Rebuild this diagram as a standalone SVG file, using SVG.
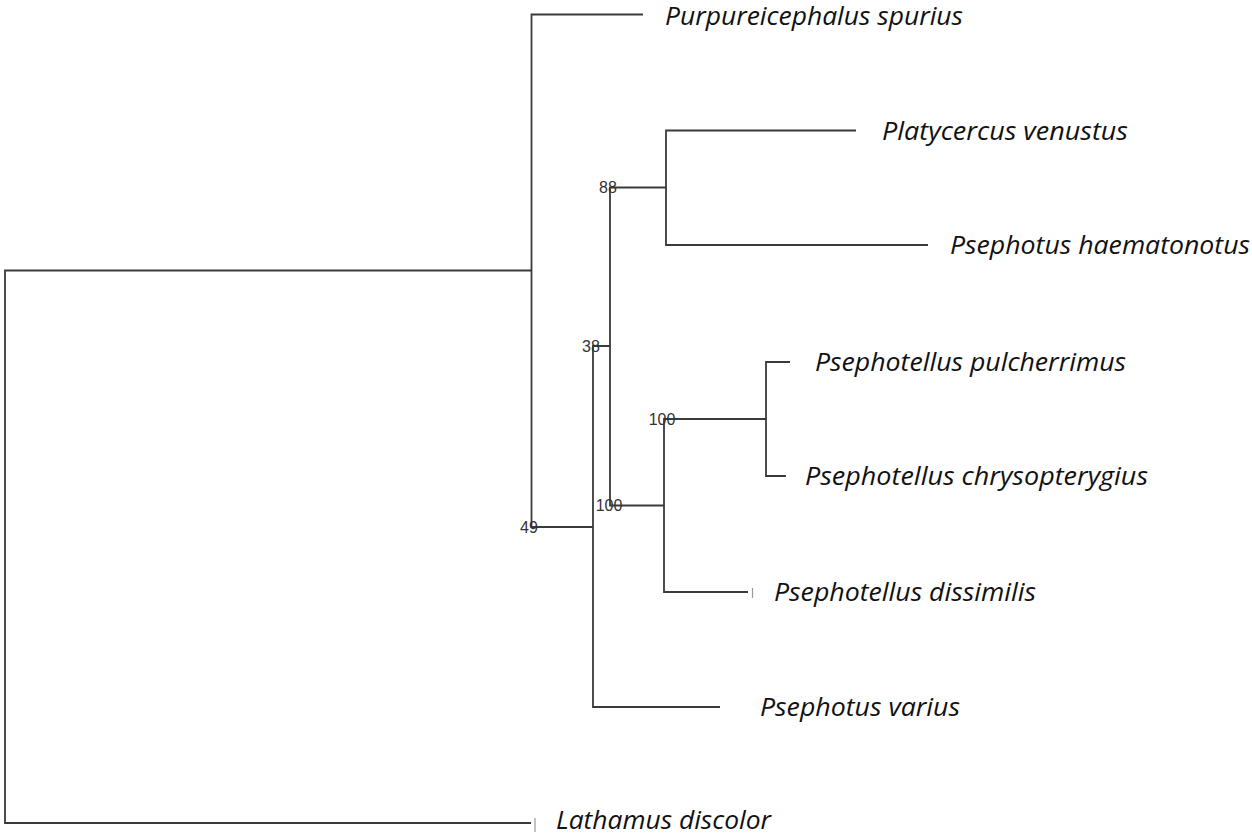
<svg xmlns="http://www.w3.org/2000/svg" width="1252" height="833" viewBox="0 0 1252 833">
<style>
.br{fill:none;stroke:#3a3a3a;stroke-width:1.8;stroke-linejoin:miter;stroke-linecap:butt}
.tick{stroke:#9a9a9a;stroke-width:1.2}
.tx{font-family:"Open Sans","Noto Sans",sans-serif;font-style:italic;font-size:26px;fill:#111}
.bs{font-family:"Liberation Sans",Arial,sans-serif;font-size:16px;fill:#333;text-anchor:middle}
</style>
<rect width="1252" height="833" fill="#fff"/>
<g id="connectors">
<path class="br" d="M531,270.5 H5 V823 H531"/>
<path class="br" d="M643,14.5 H531.5 V527 H593"/>
<path class="br" d="M610,346 H593 V707 H720"/>
<path class="br" d="M666,187.5 H610 V505.5 H664"/>
<path class="br" d="M856,130.5 H666 V245 H928"/>
<path class="br" d="M766,419 H664 V592 H748"/>
<path class="br" d="M790,362 H766 V476 H786"/>
<line class="tick" x1="535" y1="818" x2="535" y2="832"/>
<line class="tick" x1="752.5" y1="588" x2="752.5" y2="598"/>
</g>
<g id="leaf-purpureicephalus"><text class="tx" x="665" y="25" textLength="298" lengthAdjust="spacingAndGlyphs">Purpureicephalus spurius</text></g>
<g id="leaf-platycercus"><text class="tx" x="882" y="140" textLength="246" lengthAdjust="spacingAndGlyphs">Platycercus venustus</text></g>
<g id="leaf-haematonotus"><text class="tx" x="950" y="254" textLength="300" lengthAdjust="spacingAndGlyphs">Psephotus haematonotus</text></g>
<g id="leaf-pulcherrimus"><text class="tx" x="815" y="371" textLength="311" lengthAdjust="spacingAndGlyphs">Psephotellus pulcherrimus</text></g>
<g id="leaf-chrysopterygius"><text class="tx" x="805" y="485" textLength="343" lengthAdjust="spacingAndGlyphs">Psephotellus chrysopterygius</text></g>
<g id="leaf-dissimilis"><text class="tx" x="774" y="601" textLength="262" lengthAdjust="spacingAndGlyphs">Psephotellus dissimilis</text></g>
<g id="leaf-varius"><text class="tx" x="760" y="716" textLength="200" lengthAdjust="spacingAndGlyphs">Psephotus varius</text></g>
<g id="leaf-lathamus"><text class="tx" x="556" y="829" textLength="215" lengthAdjust="spacingAndGlyphs">Lathamus discolor</text></g>
<g id="support-49"><text class="bs" x="529" y="533">49</text></g>
<g id="support-38"><text class="bs" x="591" y="352">38</text></g>
<g id="support-88"><text class="bs" x="608" y="193">88</text></g>
<g id="support-100a"><text class="bs" x="609" y="511">100</text></g>
<g id="support-100b"><text class="bs" x="662" y="425">100</text></g>
</svg>
